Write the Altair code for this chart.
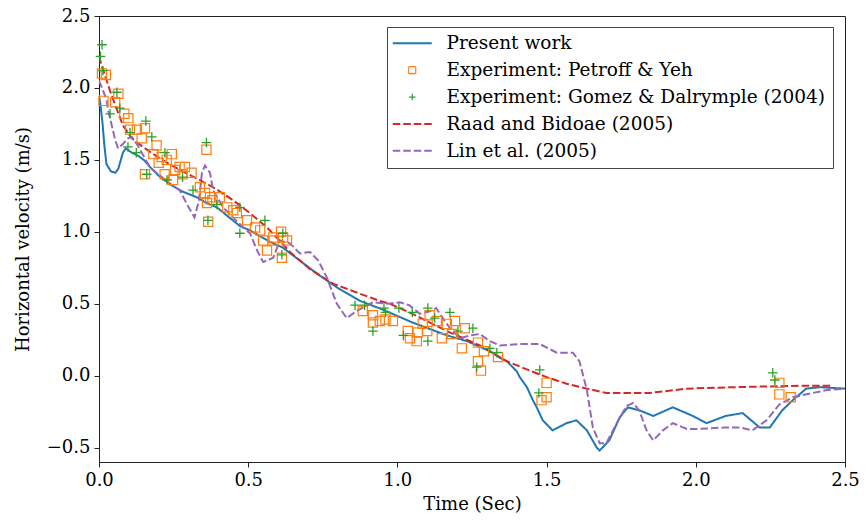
import altair as alt
import pandas as pd

names = [
    "Present work",
    "Experiment: Petroff & Yeh",
    "Experiment: Gomez & Dalrymple (2004)",
    "Raad and Bidoae (2005)",
    "Lin et al. (2005)",
]
colors = ["#1f77b4", "#ff7f0e", "#2ca02c", "#d62728", "#9467bd"]

present_t = [0.0, 0.005, 0.012, 0.018, 0.025, 0.04, 0.055, 0.065, 0.08, 0.09, 0.11, 0.13, 0.15, 0.171,
             0.2, 0.238, 0.28, 0.328, 0.36, 0.395, 0.472, 0.506, 0.573, 0.616, 0.73, 0.80, 0.875, 0.95,
             1.05, 1.166, 1.233, 1.31, 1.343, 1.367, 1.40, 1.41, 1.434, 1.454, 1.467, 1.487, 1.52, 1.567,
             1.60, 1.635, 1.668, 1.678, 1.71, 1.745, 1.772, 1.81, 1.857, 1.923, 1.99, 2.036, 2.10, 2.157,
             2.214, 2.248, 2.29, 2.325, 2.37, 2.415, 2.5]
present_v = [1.95, 1.88, 1.75, 1.60, 1.47, 1.42, 1.41, 1.44, 1.55, 1.58, 1.55, 1.53, 1.50, 1.45,
             1.39, 1.33, 1.28, 1.24, 1.20, 1.17, 1.04, 1.01, 0.93, 0.89, 0.71, 0.61, 0.52, 0.46,
             0.37, 0.28, 0.24, 0.17, 0.125, 0.10, 0.03, -0.01, -0.08, -0.17, -0.22, -0.31, -0.38, -0.33,
             -0.31, -0.38, -0.50, -0.52, -0.45, -0.29, -0.22, -0.24, -0.28, -0.22, -0.28, -0.33, -0.28, -0.26,
             -0.36, -0.36, -0.24, -0.17, -0.09, -0.08, -0.09]

raad_t = [0.0, 0.01, 0.037, 0.06, 0.08, 0.11, 0.147, 0.19, 0.228, 0.28, 0.338, 0.39, 0.449, 0.506,
          0.563, 0.60, 0.64, 0.707, 0.784, 0.874, 0.94, 0.975, 1.05, 1.166, 1.276, 1.367, 1.444, 1.50,
          1.567, 1.635, 1.70, 1.846, 1.97, 2.124, 2.348, 2.45]
raad_v = [2.22, 2.15, 1.98, 1.85, 1.74, 1.65, 1.59, 1.53, 1.48, 1.42, 1.36, 1.30, 1.22, 1.13,
          1.03, 0.95, 0.86, 0.74, 0.64, 0.57, 0.52, 0.50, 0.43, 0.31, 0.21, 0.10, 0.035, -0.01,
          -0.056, -0.09, -0.12, -0.12, -0.09, -0.08, -0.07, -0.07]

lin_t = [0.0, 0.01, 0.025, 0.03, 0.045, 0.054, 0.064, 0.08, 0.097, 0.11, 0.13, 0.17, 0.228, 0.27,
         0.298, 0.32, 0.335, 0.345, 0.355, 0.372, 0.382, 0.416, 0.449, 0.483, 0.506, 0.53, 0.55, 0.584,
         0.606, 0.64, 0.673, 0.707, 0.735, 0.764, 0.797, 0.83, 0.864, 0.918, 0.97, 1.008, 1.04, 1.075,
         1.11, 1.13, 1.152, 1.176, 1.21, 1.243, 1.276, 1.31, 1.343, 1.41, 1.477, 1.534, 1.588, 1.61,
         1.635, 1.655, 1.678, 1.70, 1.735, 1.768, 1.79, 1.81, 1.835, 1.857, 1.89, 1.923, 1.97, 2.01,
         2.10, 2.147, 2.19, 2.237, 2.28, 2.325, 2.38, 2.44, 2.5]
lin_v = [2.05, 2.00, 1.92, 1.85, 1.72, 1.64, 1.58, 1.61, 1.65, 1.66, 1.60, 1.45, 1.35, 1.29,
         1.18, 1.10, 1.22, 1.41, 1.46, 1.41, 1.29, 1.17, 1.10, 1.03, 0.99, 0.87, 0.79, 0.82,
         0.94, 0.92, 0.85, 0.86, 0.80, 0.68, 0.50, 0.40, 0.45, 0.51, 0.50, 0.51, 0.49, 0.43,
         0.45, 0.47, 0.40, 0.33, 0.26, 0.28, 0.29, 0.24, 0.21, 0.22, 0.22, 0.16, 0.16, 0.10,
         -0.10, -0.36, -0.47, -0.47, -0.33, -0.21, -0.19, -0.24, -0.38, -0.45, -0.38, -0.33, -0.37, -0.37,
         -0.36, -0.36, -0.38, -0.31, -0.20, -0.15, -0.125, -0.10, -0.09]

petroff_t = [0.01, 0.023, 0.015, 0.054, 0.065, 0.085, 0.098, 0.104, 0.127, 0.143, 0.154, 0.182, 0.193,
             0.20, 0.21, 0.227, 0.244, 0.255, 0.27, 0.288, 0.22, 0.154, 0.28, 0.31, 0.36, 0.248, 0.338,
             0.355, 0.372, 0.38, 0.362, 0.405, 0.43, 0.45, 0.462, 0.366, 0.496, 0.54, 0.563, 0.61, 0.63,
             0.585, 0.523, 0.55, 0.584, 0.617, 0.613,
             0.884, 0.918, 0.918, 0.941, 0.96, 0.985, 1.035, 1.042, 1.065, 1.068, 1.085, 1.10, 1.108,
             1.132, 1.149, 1.166, 1.183, 1.193, 1.216, 1.226, 1.27, 1.27, 1.28, 1.29, 1.337,
             1.50, 1.483, 1.50, 2.28, 2.28, 2.318]
petroff_v = [2.10, 2.09, 1.91, 1.90, 1.96, 1.82, 1.79, 1.71, 1.71, 1.65, 1.72, 1.54, 1.60,
             1.48, 1.52, 1.50, 1.54, 1.43, 1.45, 1.45, 1.40, 1.40, 1.40, 1.41, 1.57, 1.36, 1.31,
             1.27, 1.24, 1.22, 1.20, 1.24, 1.17, 1.15, 1.13, 1.07, 1.08, 1.01, 0.87, 1.00, 0.94,
             0.94, 1.03, 0.94, 0.96, 0.96, 0.82,
             0.45, 0.42, 0.37, 0.38, 0.39, 0.38, 0.31, 0.26, 0.24, 0.30, 0.36, 0.31, 0.42,
             0.38, 0.26, 0.36, 0.29, 0.38, 0.19, 0.33, 0.23, 0.10, 0.035, 0.17, 0.13,
             -0.05, -0.17, -0.15, -0.05, -0.13, -0.15]

gomez_t = [0.01, 0.005, 0.013, 0.06, 0.07, 0.037, 0.104, 0.097, 0.125, 0.157, 0.177, 0.221, 0.16,
           0.228, 0.28, 0.36, 0.315, 0.365, 0.395, 0.472, 0.472, 0.556, 0.616, 0.613,
           0.858, 0.89, 0.918, 0.955, 0.96, 1.005, 1.02, 1.05, 1.102, 1.102, 1.125, 1.176, 1.203,
           1.253, 1.266, 1.31, 1.333,
           1.477, 1.474, 2.258, 2.265]
gomez_v = [2.30, 2.22, 2.12, 1.97, 1.86, 1.82, 1.69, 1.59, 1.55, 1.77, 1.66, 1.55, 1.40,
           1.36, 1.38, 1.62, 1.29, 1.08, 1.19, 1.17, 0.99, 1.08, 0.99, 0.84,
           0.49, 0.49, 0.31, 0.47, 0.44, 0.47, 0.28, 0.44, 0.47, 0.24, 0.40, 0.44, 0.31,
           0.33, 0.06, 0.19, 0.16,
           0.04, -0.12, 0.02, -0.03]


def frame(name, t, v):
    return pd.DataFrame({"series": name, "t": t, "v": v})


lines_df = pd.concat([
    frame(names[0], present_t, present_v),
    frame(names[3], raad_t, raad_v),
    frame(names[4], lin_t, lin_v),
], ignore_index=True)
lines_df["order"] = range(len(lines_df))
sq_df = frame(names[1], petroff_t, petroff_v)
plus_df = frame(names[2], gomez_t, gomez_v)

FONT = "DejaVu Serif"
PLUS = "M-1,0L1,0M0,-1L0,1"
LEG_SQ = "M-0.7,-0.7L0.7,-0.7L0.7,0.7L-0.7,0.7Z"
LEG_PLUS = "M-0.65,0L0.65,0M0,-0.65L0,0.65"
LEG_LINE = "M-3.9,0L3.9,0"

x = alt.X("t:Q", scale=alt.Scale(domain=[0, 2.5], nice=False),
          axis=alt.Axis(title="Time (Sec)", values=[0, 0.5, 1, 1.5, 2, 2.5], format=".1f",
                        labelFlush=False, titleY=47, titleBaseline="alphabetic"))
y = alt.Y("v:Q", scale=alt.Scale(domain=[-0.6, 2.5], nice=False, zero=False),
          axis=alt.Axis(title="Horizontal velocity (m/s)", values=[-0.5, 0, 0.5, 1, 1.5, 2, 2.5],
                        format=".1f", labelFlush=False, titleX=-71, titleBaseline="alphabetic"))
cscale = alt.Scale(domain=names, range=colors)

n1, n2, n3, n4 = names[1], names[2], names[3], names[4]
is_mark = f"(datum.value === '{n1}' || datum.value === '{n2}')"
legend = alt.Legend(
    title=None, orient="none", legendX=288, legendY=11,
    symbolType=alt.ExprRef(expr=f"datum.value === '{n1}' ? '{LEG_SQ}' : datum.value === '{n2}' ? '{LEG_PLUS}' : '{LEG_LINE}'"),
    symbolSize=100, symbolOffset=9,
    symbolDash=alt.ExprRef(expr=f"(datum.value === '{n3}' || datum.value === '{n4}') ? [7.5, 3] : [1, 0]"),
    symbolStrokeWidth=alt.ExprRef(expr=f"{is_mark} ? 1.2 : 2"),
    symbolFillColor="transparent", symbolOpacity=1,
    labelOffset=25, labelLimit=600,
    labelFont=FONT, labelFontSize=18.5, labelColor="black", rowPadding=7.9,
    padding=7, strokeColor="#444444", fillColor="white", cornerRadius=0,
)

line_layer = alt.Chart(lines_df).mark_line(strokeWidth=2, clip=True).encode(
    x=x, y=y,
    color=alt.Color("series:N", scale=cscale, legend=legend),
    strokeDash=alt.StrokeDash("series:N", scale=alt.Scale(domain=[names[0], n3, n4],
                                                         range=[[1, 0], [7.5, 3], [7.5, 3]]), legend=None),
    detail="series:N",
    order="order:Q",
)

sq_layer = alt.Chart(sq_df).mark_point(shape="square", filled=False, size=85, strokeWidth=1.2, opacity=1).encode(
    x=x, y=y, color=alt.Color("series:N", scale=cscale, legend=None),
)
plus_layer = alt.Chart(plus_df).mark_point(shape=PLUS, filled=False, size=90, strokeWidth=1.3, opacity=1).encode(
    x=x, y=y, color=alt.Color("series:N", scale=cscale, legend=None),
)

chart = alt.layer(line_layer, sq_layer, plus_layer).properties(
    width=746, height=446,
    autosize=alt.AutoSizeParams(type="none"),
    padding={"left": 99, "top": 16, "right": 20, "bottom": 61},
).configure_view(
    stroke="#222222", strokeWidth=1,
).configure_axis(
    grid=False, domainColor="#222222", tickColor="#222222", tickSize=5, labelPadding=4,
    labelFont=FONT, labelFontSize=18, labelColor="black",
    titleFont=FONT, titleFontSize=18, titleFontWeight="normal", titleColor="black",
)

chart.save("out.html", embed_options={"renderer": "svg", "actions": False})
